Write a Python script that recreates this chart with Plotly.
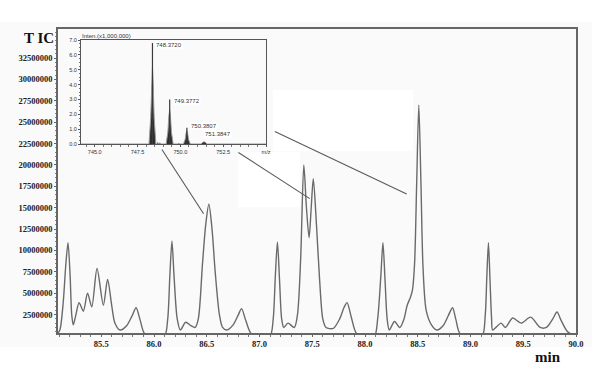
import plotly.graph_objects as go

# ---------------- data ----------------
rt_min = [85.09, 85.11, 85.14, 85.165, 85.185, 85.205, 85.22, 85.235, 85.26, 85.29,
          85.33, 85.37, 85.41, 85.46, 85.52, 85.56, 85.60, 85.63, 85.68, 85.74,
          85.79, 85.83, 85.87, 85.91, 86.00, 86.10, 86.13, 86.15, 86.17, 86.19,
          86.22, 86.25, 86.30, 86.35, 86.39, 86.42, 86.46, 86.49, 86.52, 86.55,
          86.58, 86.62, 86.65, 86.69, 86.75, 86.80, 86.83, 86.87, 86.92, 87.00,
          87.10, 87.13, 87.15, 87.17, 87.19, 87.21, 87.23, 87.27, 87.33, 87.36,
          87.39, 87.42, 87.445, 87.47, 87.49, 87.51, 87.54, 87.57, 87.60, 87.63,
          87.70, 87.76, 87.80, 87.83, 87.87, 87.92, 88.00, 88.09, 88.12, 88.15,
          88.17, 88.19, 88.21, 88.23, 88.28, 88.33, 88.37, 88.40, 88.43, 88.45,
          88.47, 88.49, 88.51, 88.53, 88.55, 88.58, 88.63, 88.68, 88.74, 88.79,
          88.83, 88.86, 88.90, 89.00, 89.11, 89.14, 89.155, 89.17, 89.185, 89.20,
          89.21, 89.29, 89.33, 89.40, 89.48, 89.57, 89.66, 89.72, 89.78, 89.82,
          89.86, 89.92, 90.00]
tic_millions = [0.3, 0.8, 4.0, 8.5, 10.9, 7.0, 2.5, 1.3, 2.5, 3.9,
                2.9, 5.0, 3.4, 7.9, 3.6, 6.6, 3.5, 1.5, 0.7, 1.2,
                2.3, 3.3, 1.8, 0.3, 0.0, 0.0, 2.0, 7.0, 11.1, 7.0,
                2.0, 0.7, 1.6, 1.2, 1.0, 2.0, 8.5, 13.0, 15.4, 12.5,
                7.5, 2.5, 1.0, 0.7, 1.3, 2.5, 3.2, 1.8, 0.3, 0.0,
                0.0, 2.0, 7.0, 11.0, 6.5, 2.0, 1.0, 1.5, 1.0, 2.5,
                9.0, 20.0, 15.0, 11.5, 15.0, 18.4, 13.0, 6.5, 2.0, 1.0,
                0.9, 2.0, 3.3, 3.9, 2.2, 0.3, 0.0, 0.0, 2.0, 7.0,
                10.9, 6.5, 2.0, 0.7, 1.7, 1.0, 2.0, 3.6, 4.5, 5.4,
                8.5, 18.0, 27.0, 18.0, 8.0, 3.0, 1.3, 0.7, 1.2, 2.4,
                3.3, 2.0, 0.3, 0.0, 0.0, 2.5, 7.0, 10.9, 6.5, 2.0,
                0.7, 1.5, 1.0, 2.1, 1.5, 2.2, 1.0, 1.0, 2.0, 2.8,
                1.8, 0.5, 0.0]

y_tick_vals = [2500000, 5000000, 7500000, 10000000, 12500000, 15000000,
               17500000, 20000000, 22500000, 25000000, 27500000, 30000000, 32500000]
x_tick_vals = [85.5, 86.0, 86.5, 87.0, 87.5, 88.0, 88.5, 89.0, 89.5, 90.0]
x_tick_text = ["85.5", "86.0", "86.5", "87.0", "87.5", "88.0", "88.5", "89.0", "89.5", "90.0"]

# inset mass spectrum (intensity in x1,000,000)
mz_profile = [744.2, 747.9, 748.17, 748.27, 748.33, 748.372, 748.41, 748.47, 748.57,
              748.62, 748.68, 748.74, 748.80, 748.86,
              749.17, 749.27, 749.33, 749.377, 749.42, 749.48, 749.58,
              749.85, 749.90, 749.95,
              750.18, 750.28, 750.34, 750.381, 750.42, 750.48, 750.58,
              751.20, 751.30, 751.385, 751.47, 751.56, 755.0]
int_profile = [0, 0, 0, 1.8, 4.2, 5.2, 4.2, 1.8, 0,
               0, 0.1, 0, 0.08, 0,
               0, 0.8, 1.9, 2.3, 1.9, 0.8, 0,
               0, 0.06, 0,
               0, 0.3, 0.75, 0.9, 0.75, 0.3, 0,
               0, 0.1, 0.13, 0.1, 0, 0]
mz_peaks = [748.3720, 749.3772, 750.3807, 751.3847]
int_peaks = [6.8, 3.0, 1.1, 0.15]
peak_labels = ["748.3720", "749.3772", "750.3807", "751.3847"]
inset_x_ticks = [745.0, 747.5, 750.0, 752.5, 755.0]
inset_x_text = ["745.0", "747.5", "750.0", "752.5", "m/z"]
inset_y_ticks = [0, 1, 2, 3, 4, 5, 6, 7]

# ---------------- figure ----------------
fig = go.Figure()

fig.add_trace(go.Scatter(
    x=rt_min, y=[v * 1e6 for v in tic_millions], mode="lines",
    line=dict(color="#6a6a6a", width=1.4, shape="spline", smoothing=0.8),
    hoverinfo="skip", showlegend=False, xaxis="x", yaxis="y"))

fig.add_trace(go.Scatter(
    x=mz_profile, y=int_profile, mode="lines", fill="tozeroy",
    fillcolor="#2e2e2e", line=dict(color="#9a9a9a", width=1),
    hoverinfo="skip", showlegend=False, xaxis="x2", yaxis="y2"))

stick_x, stick_y = [], []
for m, h in zip(mz_peaks, int_peaks):
    stick_x += [m, m, None]
    stick_y += [0, h, None]
fig.add_trace(go.Scatter(
    x=stick_x, y=stick_y, mode="lines", line=dict(color="#3a3a3a", width=1.2),
    hoverinfo="skip", showlegend=False, xaxis="x2", yaxis="y2"))

W, H = 616, 388
L, R, T, B = 58, 40, 29, 55
pw, ph = W - L - R, H - T - B


def px(xp):
    return (xp - L) / pw


def py(yp):
    return (H - B - yp) / ph


shapes = [
    dict(type="rect", xref="paper", yref="paper", x0=px(0), x1=px(592), y0=py(347), y1=py(22),
         fillcolor="#fafafa", line=dict(width=0), layer="below"),
    dict(type="rect", xref="paper", yref="paper", x0=px(273), x1=px(413), y0=py(151), y1=py(90),
         fillcolor="#ffffff", line=dict(width=0), layer="below"),
    dict(type="rect", xref="paper", yref="paper", x0=px(238), x1=px(300), y0=py(207), y1=py(152),
         fillcolor="#ffffff", line=dict(width=0), layer="below"),
    # pointer lines from inset to peaks (main data coordinates)
    dict(type="line", xref="x", yref="y", x0=86.075, y0=21.8e6, x1=86.47, y1=14.3e6,
         line=dict(color="#5a5a5a", width=1.1)),
    dict(type="line", xref="x", yref="y", x0=86.80, y0=21.45e6, x1=87.476, y1=16.06e6,
         line=dict(color="#5a5a5a", width=1.1)),
    dict(type="line", xref="x", yref="y", x0=87.145, y0=23.9e6, x1=88.395, y1=16.6e6,
         line=dict(color="#5a5a5a", width=1.1)),
]

annotations = [
    dict(text="T IC", xref="paper", yref="paper", x=px(22), y=py(38), xanchor="left",
         yanchor="middle", showarrow=False,
         font=dict(family="Liberation Serif", size=15, color="#111", weight="bold")),
    dict(text="min", xref="paper", yref="paper", x=px(548), y=py(357), xanchor="center",
         yanchor="middle", showarrow=False,
         font=dict(family="Liberation Serif", size=15, color="#111", weight="bold")),
    dict(text="Inten.(x1,000,000)", xref="paper", yref="paper", x=px(80), y=py(36),
         xanchor="left", yanchor="middle", showarrow=False,
         font=dict(family="Liberation Sans", size=6, color="#333")),
]
label_y = [6.65, 2.9, 1.2, 0.7]
label_x = [748.372, 749.377, 750.381, 751.2]
for lx, ly, txt in zip(label_x, label_y, peak_labels):
    annotations.append(dict(text=txt, xref="x2", yref="y2", x=lx, y=ly, xanchor="left",
                            yanchor="middle", xshift=3, showarrow=False, bgcolor="#ffffff",
                            borderpad=0,
                            font=dict(family="Liberation Sans", size=6, color="#333")))

tickfont_main = dict(family="Liberation Serif", size=8.5, color="#222", weight="bold")
tickfont_inset = dict(family="Liberation Sans", size=5.5, color="#333")

fig.update_layout(
    width=W, height=H,
    margin=dict(l=L, r=R, t=T, b=B),
    paper_bgcolor="#ffffff", plot_bgcolor="rgba(0,0,0,0)",
    showlegend=False,
    shapes=shapes, annotations=annotations,
    xaxis=dict(range=[85.09, 90.0], tickvals=x_tick_vals, ticktext=x_tick_text,
               showgrid=False, zeroline=False, showline=True, mirror=True,
               linecolor="#666", linewidth=1.5, ticks="outside", ticklen=2,
               tickcolor="#666", tickfont=tickfont_main,
               minor=dict(dtick=0.1, ticks="outside", ticklen=2, tickcolor="#777")),
    yaxis=dict(range=[350000, 35900000], tickvals=y_tick_vals,
               ticktext=[str(v) for v in y_tick_vals],
               showgrid=False, zeroline=False, showline=True, mirror=True,
               linecolor="#666", linewidth=1.5, ticks="outside", ticklen=2,
               tickcolor="#666", tickfont=tickfont_main, ticklabelstandoff=0,
               minor=dict(dtick=500000, ticks="outside", ticklen=1.5, tickcolor="#888")),
    xaxis2=dict(domain=[px(81), px(266)], anchor="y2", range=[744.2, 755.0],
                tickvals=inset_x_ticks, ticktext=inset_x_text,
                showgrid=False, zeroline=False, showline=True, mirror=True,
                linecolor="#555", linewidth=1, ticks="outside", ticklen=2,
                tickcolor="#555", tickfont=tickfont_inset,
                minor=dict(dtick=0.5, ticks="outside", ticklen=1.5, tickcolor="#777")),
    yaxis2=dict(domain=[py(144), py(40)], anchor="x2", range=[0, 7.0],
                tickvals=inset_y_ticks, tickformat=".1f",
                showgrid=False, zeroline=False, showline=True, mirror=True,
                linecolor="#555", linewidth=1, ticks="outside", ticklen=2,
                tickcolor="#555", tickfont=tickfont_inset,
                minor=dict(dtick=0.25, ticks="outside", ticklen=1.5, tickcolor="#777")),
)

fig.write_html("out.html")
